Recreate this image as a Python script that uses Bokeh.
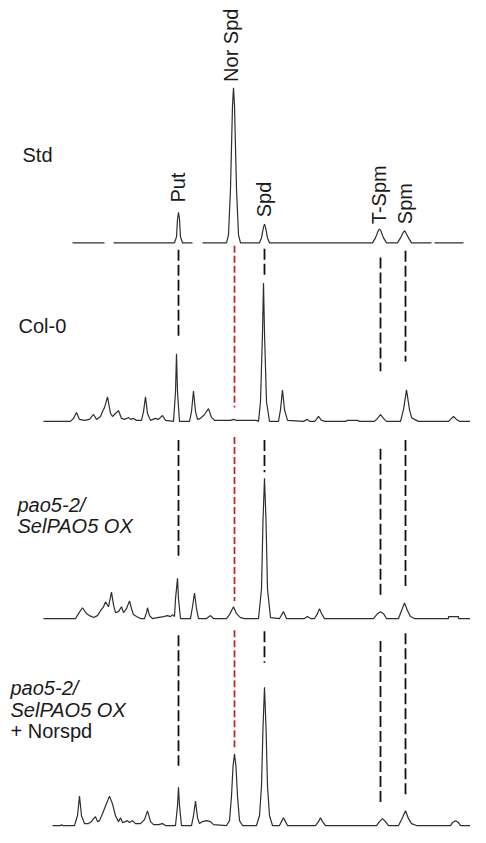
import math
from bokeh.plotting import figure
from bokeh.models import Range1d
from bokeh.core.properties import value
from bokeh.embed import file_html
from bokeh.resources import INLINE

nan = float("nan")

# ---------------- data ----------------
compounds = ["Put", "Nor Spd", "Spd", "T-Spm", "Spm"]
compound_rt = [178, 234, 264, 380, 405]

sample_names = ["Std", "Col-0", "pao5-2/SelPAO5 OX", "pao5-2/SelPAO5 OX + Norspd"]

# retention time (arbitrary units) / detector signal (arbitrary units)
std_points = [(72, 0), (104, 0), (nan, nan), (113, 0), (174, 0), (176, 6), (177, 24), (178, 31),
              (179, 24), (180, 6), (182, 0), (192, 0), (nan, nan), (202, 0), (226, 0), (228, 8),
              (230, 55), (232, 140), (233, 158), (234, 140), (236, 55), (238, 8), (240, 0),
              (259, 0), (261, 5), (263, 16), (264, 19), (265, 16), (267, 5), (269, 0), (372, 0),
              (375, 5), (378, 13), (379, 14), (380, 13), (383, 5), (386, 0), (391, 0), (397, 0),
              (400, 5), (403, 11), (404, 12), (405, 11), (408, 5), (411, 0), (431, 0), (nan, nan),
              (434, 0), (463, 0), (nan, nan), (470, 0), (486, 0)]

col0_points = [(43, 0), (70, 0), (73, 3), (76, 9), (79, 2), (84, 1), (89, 2), (93, 7), (96, 2),
               (100, 5), (102, 10), (104, 14), (107, 25), (110, 8), (112, 5), (115, 8), (118, 11),
               (121, 3), (124, 2), (126, 3), (128, 4), (130, 2), (133, 3), (136, 1), (141, 1),
               (143, 10), (145, 25), (147, 8), (150, 1), (155, 3), (158, 2), (162, 6), (165, 1),
               (173, 0), (175, 30), (176, 69), (177, 30), (179, 0), (189, 0), (191, 10), (193, 31),
               (195, 10), (197, 2), (200, 3), (204, 7), (208, 13), (211, 4), (214, 1), (230, 1),
               (233, 2), (236, 1), (256, 1), (258, 0), (260, 20), (262, 90), (263, 141), (264, 90),
               (266, 20), (269, 0), (278, 0), (280, 12), (282, 32), (284, 12), (287, 1), (303, 0),
               (305, 1), (307, 2), (309, 0), (314, 0), (316, 2), (318, 5), (321, 1), (325, 0),
               (345, 0), (347, 1), (357, 1), (359, 0), (374, 0), (377, 3), (380, 7), (383, 3),
               (386, 0), (400, 0), (403, 12), (406, 32), (409, 12), (411, 4), (414, 2), (418, 0),
               (448, 0), (450, 2), (453, 5), (456, 2), (459, 0), (486, 0)]

pao_points = [(43, 0), (75, 0), (78, 5), (82, 11), (86, 5), (89, 3), (93, 1), (97, 3), (100, 8),
              (103, 12), (105, 17), (108, 12), (111, 27), (113, 14), (115, 6), (118, 7), (121, 12),
              (123, 6), (126, 10), (129, 18), (131, 10), (133, 4), (136, 2), (140, 0), (144, 0),
              (146, 6), (147, 11), (149, 3), (152, 0), (157, 1), (163, 2), (167, 3), (170, 2),
              (172, 4), (174, 2), (175, 20), (177, 41), (178, 20), (180, 0), (190, 0), (192, 12),
              (194, 26), (196, 10), (198, 0), (206, 0), (210, 3), (213, 0), (226, 0), (229, 4),
              (233, 12), (236, 5), (240, 1), (244, 0), (258, 0), (261, 30), (262.5, 100), (264, 143),
              (265.5, 100), (267, 30), (270, 1), (279, 0), (283, 7), (286, 0), (304, 0), (307, 2),
              (310, 0), (314, 0), (317, 5), (319, 10), (321, 5), (324, 0), (373, 0), (377, 5),
              (380, 7), (383, 5), (386, 0), (398, 0), (401, 8), (404, 16), (407, 8), (410, 2),
              (414, 0), (448, 0), (448, 2), (458, 2), (458, 0), (486, 0)]

norspd_points = [(52, 0), (60, 0), (61, 1), (62, 0), (74, 0), (77, 10), (79, 30), (81, 10), (84, 2),
                 (88, 2), (91, 4), (93, 7), (95, 9), (97, 4), (99, 5), (102, 12), (105, 20), (109, 30),
                 (112, 22), (115, 10), (118, 4), (120, 8), (122, 3), (125, 4), (127, 5), (129, 3),
                 (132, 5), (135, 2), (140, 2), (144, 6), (147, 15), (150, 4), (153, 1), (158, 1),
                 (162, 2), (165, 0), (175, 0), (177, 20), (178, 39), (179, 20), (181, 0), (191, 0),
                 (193, 10), (195, 25), (197, 8), (199, 2), (202, 4), (206, 5), (210, 4), (213, 1),
                 (226, 0), (229, 5), (231, 30), (232.5, 60), (234, 73), (235.5, 60), (237, 30),
                 (239, 5), (242, 0), (256, 0), (259, 10), (261, 40), (262.5, 100), (264, 141),
                 (265.5, 100), (267, 40), (269, 10), (272, 0), (279, 0), (281, 4), (283, 8), (285, 4),
                 (287, 0), (315, 0), (318, 4), (320, 8), (322, 4), (325, 0), (376, 0), (379, 4),
                 (382, 7), (385, 4), (388, 0), (398, 0), (401, 6), (405, 15), (408, 7), (411, 2),
                 (416, 0), (450, 0), (452, 3), (455, 5), (458, 3), (460, 0), (486, 0)]

# ---------------- layout ----------------
W, H = 470, 827
baselines = [247, 429, 630, 841]
traces = [std_points, col0_points, pao_points, norspd_points]

# vertical extent of dashed guide lines per panel (panels 1..3), per compound
guide_extent = [
    [(254, 343), (250, 415), (253, 281), (262, 378), (255, 368)],
    [(448, 566), (445, 612), (448, 481), (457, 608), (448, 600)],
    [(647, 780), (642, 764), (643, 675), (653, 818), (645, 811)],
]
label_bottom = [206, 83, 221, 228, 228]
label_dx = [-1, -4, -1, -2, -1]

FONT = value("Liberation Sans")
TXT = "#1a1a1a"
FS = "20px"

p = figure(width=W, height=H, x_range=Range1d(0, W), y_range=Range1d(843, 0),
           output_backend="svg", toolbar_location=None, x_axis_type=None, y_axis_type=None,
           min_border=0)
p.outline_line_color = None
p.background_fill_color = "white"
p.border_fill_color = "white"

# dashed guides
for ext in guide_extent:
    bx0, by0, bx1, by1 = [], [], [], []
    for rt, (a, b), name in zip(compound_rt, ext, compounds):
        if name == "Nor Spd":
            p.segment(x0=[rt], y0=[a], x1=[rt], y1=[b], line_color="#c0262b",
                      line_width=1.8, line_dash="7 3")
        else:
            bx0.append(rt); by0.append(a); bx1.append(rt); by1.append(b)
    p.segment(x0=bx0, y0=by0, x1=bx1, y1=by1, line_color="#111111", line_width=1.8,
              line_dash="11 4")

# traces
for pts, base in zip(traces, baselines):
    xs = [t for t, s in pts]
    ys = [base - s for t, s in pts]
    p.line(xs, ys, line_color="#2e2e2e", line_width=1.2)

# compound labels (rotated)
p.text(x=[rt + d for rt, d in zip(compound_rt, label_dx)], y=label_bottom, text=compounds,
       angle=math.pi / 2, text_font=FONT, text_font_size=FS, text_color=TXT,
       text_align="left", text_baseline="middle")

# sample labels
p.text(x=[22], y=[157], text=[sample_names[0]], text_font=FONT, text_font_size=FS,
       text_color=TXT, text_baseline="alphabetic")
p.text(x=[18], y=[332], text=[sample_names[1]], text_font=FONT, text_font_size=FS,
       text_color=TXT, text_baseline="alphabetic")
p.text(x=[17, 17, 10, 10], y=[514, 536, 701, 723],
       text=["pao5-2/", "SelPAO5 OX", "pao5-2/", "SelPAO5 OX"], text_font=FONT,
       text_font_size=FS, text_font_style="italic", text_color=TXT, text_baseline="alphabetic")
p.text(x=[10], y=[745], text=["+ Norspd"], text_font=FONT, text_font_size=FS,
       text_color=TXT, text_baseline="alphabetic")

open("out.html", "w").write(file_html(p, INLINE))
